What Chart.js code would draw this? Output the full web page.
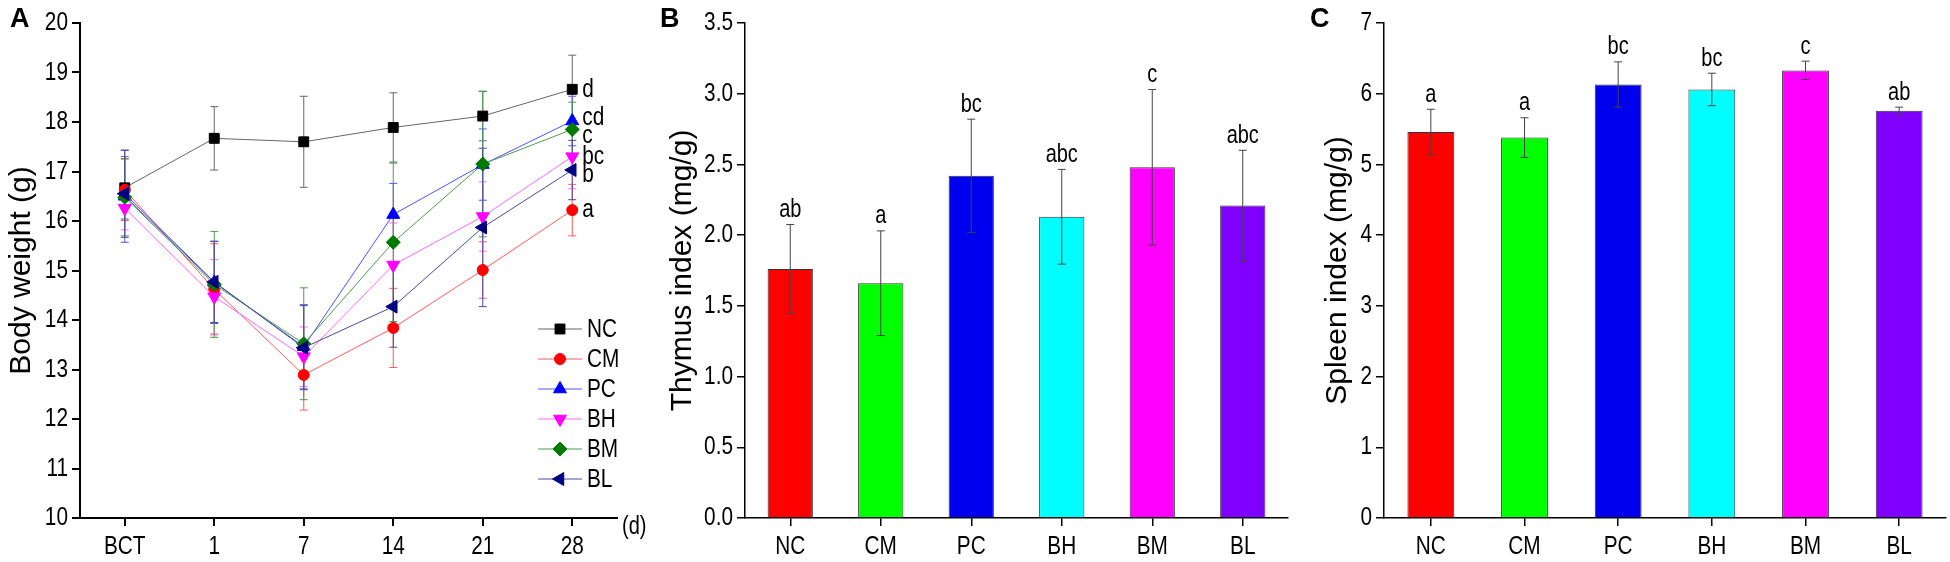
<!DOCTYPE html>
<html>
<head>
<meta charset="utf-8">
<script src="https://cdn.jsdelivr.net/npm/chart.js@4.4.1/dist/chart.umd.min.js"></script>
<style>
  html, body { margin: 0; padding: 0; background: #fff; }
  #wrap { position: relative; width: 1950px; height: 562px; }
  .panel { position: absolute; top: 0; width: 650px; height: 562px; }
</style>
</head>
<body>
<div id="wrap">
  <div class="panel" style="left:0"><canvas id="chartA" width="650" height="562"></canvas></div>
  <div class="panel" style="left:650px"><canvas id="chartB" width="650" height="562"></canvas></div>
  <div class="panel" style="left:1300px"><canvas id="chartC" width="650" height="562"></canvas></div>
</div>
<script>
// ---- data ----
var days = ['BCT', '1', '7', '14', '21', '28'];
var groups = ['NC', 'CM', 'PC', 'BH', 'BM', 'BL'];

// body weight (g), mean and sd per day
var wNC = [16.67, 17.67, 17.60, 17.89, 18.12, 18.66];
var wCM = [16.63, 14.62, 12.89, 13.84, 15.01, 16.22];
var wPC = [16.50, 14.76, 13.46, 16.13, 17.14, 18.02];
var wBH = [16.26, 14.47, 13.26, 15.11, 16.09, 17.30];
var wBM = [16.48, 14.72, 13.52, 15.57, 17.15, 17.85];
var wBL = [16.55, 14.77, 13.44, 14.27, 15.87, 17.03];
var sdNC = [0.63, 0.64, 0.92, 0.70, 0.50, 0.69];
var sdCM = [0.62, 0.92, 0.71, 0.80, 0.57, 0.52];
var sdPC = [0.93, 0.83, 0.85, 0.63, 0.72, 0.50];
var sdBH = [0.44, 0.75, 0.60, 0.85, 0.70, 0.65];
var sdBM = [0.78, 1.07, 1.13, 1.60, 1.47, 0.55];
var sdBL = [0.88, 0.82, 0.85, 0.82, 1.60, 0.60];
var weightLetters = ['d', 'a', 'cd', 'bc', 'c', 'b'];

// thymus index (mg/g)
var thymus = [1.76, 1.66, 2.42, 2.13, 2.48, 2.21];
var thymusSd = [0.315, 0.37, 0.40, 0.335, 0.55, 0.39];
var thymusLetters = ['ab', 'a', 'bc', 'abc', 'c', 'abc'];

// spleen index (mg/g)
var spleen = [5.46, 5.38, 6.13, 6.06, 6.33, 5.76];
var spleenSd = [0.32, 0.28, 0.32, 0.23, 0.13, 0.05];
var spleenLetters = ['a', 'a', 'bc', 'bc', 'c', 'ab'];

// ---- styles ----
var regular = "'Liberation Sans', Arial, sans-serif";
var markColors = ['#000000', '#ff0000', '#0000ff', '#ff00ff', '#007a00', '#000080'];
var lineColors = ['#666666', '#ff5a5a', '#5050ff', '#ff66ff', '#4c9c4c', '#4a4a9a'];
var pointStyles = ['rect', 'circle', 'triangle', 'triangle', 'rectRot', 'triangle'];
var pointRot = [0, 0, 0, 180, 0, -90];
var pointRad = [7, 5.5, 7.5, 7.5, 7, 7.5];
var barColors = ['#ff0000', '#00ff00', '#0000ee', '#00ffff', '#ff00ff', '#8000ff'];

Chart.defaults.animation = false;
Chart.defaults.color = '#000';

// the figure uses a condensed Arial; squeeze Liberation Sans to match
function narrowText(ctx, text, x, y, size, align, baseline) {
  ctx.save();
  ctx.font = size + 'px ' + regular;
  ctx.fillStyle = '#000';
  ctx.textAlign = align;
  ctx.textBaseline = baseline;
  ctx.translate(x, y);
  ctx.scale(0.8, 1);
  ctx.fillText(text, 0, 0);
  ctx.restore();
}

function drawMarker(ctx, i, x, y) {
  var opts = { pointStyle: pointStyles[i], rotation: pointRot[i], radius: pointRad[i], borderWidth: 1 };
  ctx.fillStyle = markColors[i];
  ctx.strokeStyle = markColors[i];
  Chart.helpers.drawPoint(ctx, opts, x, y);
}

// tick labels + panel letter
function axisText(label) {
  return {
    id: 'axisText',
    afterDraw: function (chart) {
      var ctx = chart.ctx, xs = chart.scales.x, ys = chart.scales.y, area = chart.chartArea;
      ys.ticks.forEach(function (t, i) {
        narrowText(ctx, t.label, area.left - 12, ys.getPixelForTick(i), 26, 'right', 'middle');
      });
      xs.ticks.forEach(function (t, i) {
        narrowText(ctx, t.label, xs.getPixelForTick(i), area.bottom + 29, 26, 'center', 'middle');
      });
      ctx.save();
      ctx.font = 'bold 27px ' + regular;
      ctx.fillStyle = '#000';
      ctx.textBaseline = 'top';
      ctx.textAlign = 'left';
      ctx.fillText(label, 10, 6);
      ctx.restore();
    }
  };
}

function yAxis(min, max, step, title, width, titlePad, fmt, lw) {
  return {
    min: min, max: max,
    afterFit: function (s) { s.width = width; },
    border: { color: '#000', width: lw },
    grid: { drawOnChartArea: false, drawTicks: true, tickLength: 8, color: '#000', lineWidth: lw },
    ticks: { stepSize: step, color: 'rgba(0,0,0,0)', font: { family: regular, size: 24 }, callback: fmt },
    title: { display: true, text: title, color: '#000', padding: { top: titlePad }, font: { family: regular, size: 30 } }
  };
}

function xAxis(lw) {
  return {
    offset: true,
    afterFit: function (s) { s.height = 44; },
    border: { color: '#000', width: lw },
    grid: { offset: false, drawOnChartArea: false, drawTicks: true, tickLength: 8, color: '#000', lineWidth: lw },
    ticks: { color: 'rgba(0,0,0,0)', font: { family: regular, size: 24 } }
  };
}

// ---- panel A: body weight ----
var weights = [wNC, wCM, wPC, wBH, wBM, wBL];
var weightSd = [sdNC, sdCM, sdPC, sdBH, sdBM, sdBL];

var extrasA = {
  id: 'extrasA',
  beforeDatasetsDraw: function (chart) {
    var ctx = chart.ctx, xs = chart.scales.x, ys = chart.scales.y;
    ctx.save();
    ctx.lineWidth = 1;
    weights.forEach(function (vals, i) {
      ctx.strokeStyle = lineColors[i];
      vals.forEach(function (v, j) {
        var x = xs.getPixelForValue(j);
        var y1 = ys.getPixelForValue(v + weightSd[i][j]);
        var y2 = ys.getPixelForValue(v - weightSd[i][j]);
        ctx.beginPath();
        ctx.moveTo(x, y1); ctx.lineTo(x, y2);
        ctx.moveTo(x - 4, y1); ctx.lineTo(x + 4, y1);
        ctx.moveTo(x - 4, y2); ctx.lineTo(x + 4, y2);
        ctx.stroke();
      });
    });
    ctx.restore();
  },
  afterDraw: function (chart) {
    var ctx = chart.ctx, xs = chart.scales.x, ys = chart.scales.y, area = chart.chartArea;
    var last = days.length - 1;
    var nudge = [0, 0, -3, 0, 6, 5];
    weights.forEach(function (vals, i) {
      narrowText(ctx, weightLetters[i], xs.getPixelForValue(last) + 10,
        ys.getPixelForValue(vals[last]) + nudge[i], 26, 'left', 'middle');
    });
    // unit of the x axis
    narrowText(ctx, '(d)', area.right + 5, area.bottom + 9, 25, 'left', 'middle');
    // legend
    groups.forEach(function (g, i) {
      var y = area.bottom - 189 + i * 30;
      var x0 = area.right - 79;
      ctx.save();
      ctx.strokeStyle = lineColors[i];
      ctx.lineWidth = 1;
      ctx.beginPath();
      ctx.moveTo(x0, y); ctx.lineTo(x0 + 44, y);
      ctx.stroke();
      drawMarker(ctx, i, x0 + 22, y);
      ctx.restore();
      narrowText(ctx, g, x0 + 49, y + 1, 26, 'left', 'middle');
    });
  }
};

new Chart(document.getElementById('chartA'), {
  type: 'line',
  data: {
    labels: days,
    datasets: weights.map(function (vals, i) {
      return {
        label: groups[i],
        data: vals,
        borderColor: lineColors[i],
        borderWidth: 1,
        pointStyle: pointStyles[i],
        rotation: pointRot[i],
        pointRadius: pointRad[i],
        pointBackgroundColor: markColors[i],
        pointBorderColor: markColors[i],
        pointBorderWidth: 1,
        tension: 0
      };
    }).reverse()
  },
  options: {
    responsive: false,
    devicePixelRatio: 1,
    layout: { padding: { top: 23, right: 33, left: 0, bottom: 0 } },
    plugins: { legend: { display: false }, tooltip: { enabled: false } },
    scales: {
      x: xAxis(2),
      y: yAxis(10, 20, 1, 'Body weight (g)', 80, 4, function (v) { return v; }, 2)
    }
  },
  plugins: [extrasA, axisText('A')]
});

// ---- panels B and C: bar charts ----
function barErrors(sd, letters) {
  return {
    id: 'barErrors',
    afterDatasetsDraw: function (chart) {
      var ctx = chart.ctx, xs = chart.scales.x, ys = chart.scales.y;
      var vals = chart.data.datasets[0].data;
      vals.forEach(function (v, j) {
        var x = xs.getPixelForValue(j);
        var y1 = ys.getPixelForValue(v + sd[j]);
        var y2 = ys.getPixelForValue(v - sd[j]);
        ctx.save();
        ctx.strokeStyle = '#444';
        ctx.lineWidth = 1;
        ctx.beginPath();
        ctx.moveTo(x, y1); ctx.lineTo(x, y2);
        ctx.moveTo(x - 4, y1); ctx.lineTo(x + 4, y1);
        ctx.moveTo(x - 4, y2); ctx.lineTo(x + 4, y2);
        ctx.stroke();
        ctx.restore();
        narrowText(ctx, letters[j], x, y1 - 2, 25, 'center', 'bottom');
      });
    }
  };
}

function barChart(id, vals, sd, letters, max, step, title, yWidth, titlePad, padRight, fmt, label) {
  new Chart(document.getElementById(id), {
    type: 'bar',
    data: {
      labels: groups,
      datasets: [{
        data: vals,
        backgroundColor: barColors,
        borderColor: '#333',
        borderWidth: 1,
        categoryPercentage: 1,
        barPercentage: 0.5
      }]
    },
    options: {
      responsive: false,
      devicePixelRatio: 1,
      layout: { padding: { top: 23, right: padRight, left: 0, bottom: 0 } },
      plugins: { legend: { display: false }, tooltip: { enabled: false } },
      scales: {
        x: xAxis(1.5),
        y: yAxis(0, max, step, title, yWidth, titlePad, fmt, 1.5)
      }
    },
    plugins: [barErrors(sd, letters), axisText(label)]
  });
}

barChart('chartB', thymus, thymusSd, thymusLetters, 3.5, 0.5, 'Thymus index (mg/g)', 95, 15, 12,
  function (v) { return v.toFixed(1); }, 'B');
barChart('chartC', spleen, spleenSd, spleenLetters, 7, 1, 'Spleen index (mg/g)', 84, 20, 4,
  function (v) { return v; }, 'C');
</script>
</body>
</html>
